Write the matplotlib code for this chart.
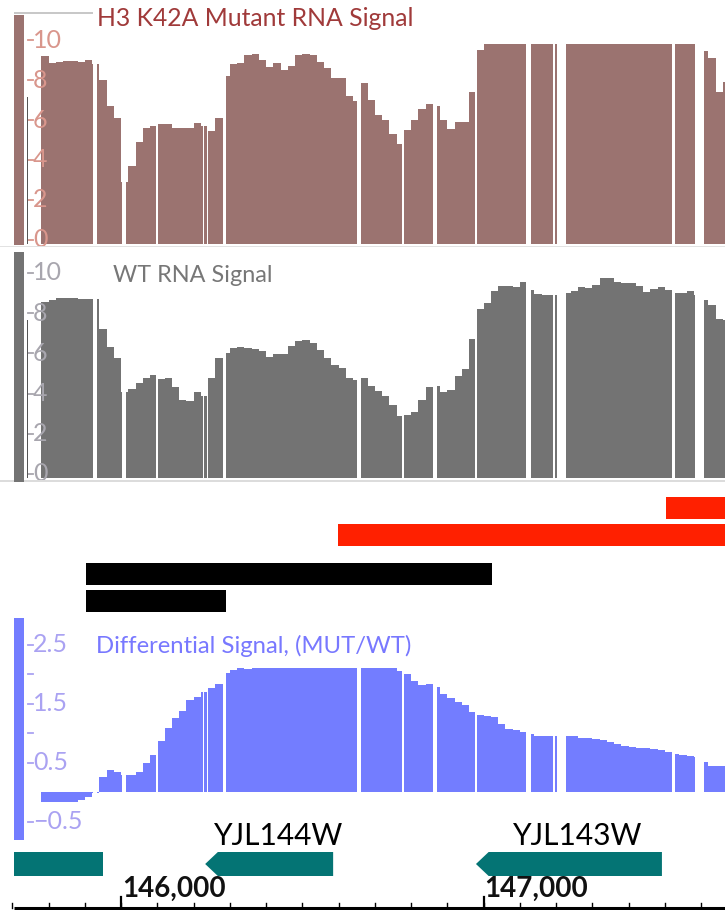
import numpy as np
import matplotlib
matplotlib.use('Agg')
import matplotlib.pyplot as plt
from matplotlib.patches import Rectangle, Polygon
import matplotlib.transforms as mtransforms

plt.rcParams['font.family'] = ['Lato', 'DejaVu Sans']

# ------------------------------------------------------------------ data
BIN_START = 145780          # genomic start of first signal bin
BIN_SIZE = 20               # bp per bin

mutant_signal = [
    9.4, 9.05, 9.1, 9.15, 9.15, 9.1, 9.2, 9.0, 8.2, 6.9,
    6.3, 3.1, 3.9, 5.1, 5.8, 5.9, 6.0, 6.0, 5.8, 5.8,
    5.8, 6.05, 5.9, 5.65, 6.3, 8.4, 9.0, 9.05, 9.45, 9.5,
    9.2, 8.85, 9.05, 8.7, 8.9, 9.45, 9.5, 9.45, 9.1, 8.8,
    8.3, 8.3, 7.4, 7.15, 8.05, 7.2, 6.45, 6.2, 5.5, 5.0,
    5.7, 6.2, 6.75, 7.0, 6.9, 6.2, 5.75, 6.1, 6.1, 7.6,
    9.7, 10, 10, 10, 10, 10, 10, 10, 10, 10,
    10, 10, 10, 10, 10, 10, 10, 10, 10, 10,
    10, 10, 10, 10, 10, 10, 10, 10, 10, 10,
    10, 9.65, 9.3, 7.6, 8.1,
]

wt_signal = [
    8.75, 8.85, 8.95, 8.95, 8.95, 8.9, 8.9, 8.9, 7.4, 6.5,
    5.95, 4.3, 4.45, 4.75, 5.0, 5.1, 4.95, 5.0, 4.55, 3.9,
    3.85, 4.3, 4.1, 5.0, 5.95, 6.2, 6.45, 6.5, 6.45, 6.4,
    6.3, 6.0, 6.15, 6.15, 6.55, 6.8, 6.85, 6.7, 6.35, 5.95,
    5.6, 5.45, 5.0, 4.9, 5.0, 4.6, 4.35, 4.1, 3.65, 3.1,
    3.15, 3.3, 3.9, 4.55, 4.6, 4.3, 4.4, 5.05, 5.4, 6.9,
    8.4, 8.7, 9.3, 9.55, 9.55, 9.5, 9.75, 9.35, 9.15, 9.1,
    9.1, 9.1, 9.2, 9.3, 9.5, 9.45, 9.6, 9.95, 9.95, 9.75,
    9.7, 9.7, 9.55, 9.25, 9.4, 9.5, 9.35, 9.2, 9.2, 9.3,
    9.1, 8.85, 8.6, 7.9, 7.85,
]

diff_signal = [
    -0.17, -0.17, -0.17, -0.17, -0.17, -0.13, -0.08, -0.02, 0.25, 0.37,
    0.34, 0.29, 0.29, 0.34, 0.5, 0.63, 0.86, 1.08, 1.25, 1.37,
    1.56, 1.61, 1.69, 1.76, 1.83, 2.02, 2.07, 2.1, 2.08, 2.1,
    2.1, 2.1, 2.1, 2.1, 2.1, 2.1, 2.1, 2.1, 2.1, 2.1,
    2.1, 2.1, 2.1, 2.1, 2.1, 2.1, 2.1, 2.1, 2.1, 2.05,
    2.0, 1.88, 1.81, 1.83, 1.78, 1.66, 1.59, 1.53, 1.47, 1.36,
    1.31, 1.29, 1.27, 1.15, 1.07, 1.05, 1.02, 0.98, 0.95, 0.95,
    0.95, 0.95, 0.95, 0.95, 0.92, 0.92, 0.9, 0.88, 0.85, 0.81,
    0.78, 0.76, 0.75, 0.74, 0.73, 0.71, 0.68, 0.64, 0.63, 0.61,
    0.6, 0.51, 0.44, 0.44, 0.44,
]

# intervals without coverage (white gaps), genomic start / end
gap_start = [145923, 146003, 146097, 146226, 146236, 146281, 146651, 146775,
             146861, 146977, 147117, 147192, 147203, 147520, 147583]
gap_end = [145934, 146014, 146102, 146229, 146240, 146290, 146662, 146781,
           146872, 146982, 147131, 147197, 147228, 147528, 147608]

red_feat_start = [147503, 146599]
red_feat_end = [147700, 147700]
black_feat_start = [145903, 145903]
black_feat_end = [147023, 146290]

gene_names = ['', 'YJL144W', 'YJL143W']
gene_start = [145705, 146232, 146979]
gene_end = [145950, 146585, 147492]
gene_arrow = [False, True, True]

ruler_major = [146000, 147000]
ruler_labels = ['146,000', '147,000']

signal_ticks = [0, 2, 4, 6, 8, 10]
signal_ticklabels = ['0', '2', '4', '6', '8', '10']
diff_ticks = [-0.5, 0.5, 1.0, 1.5, 2.0, 2.5]
diff_ticklabels = ['\u22120.5', '0.5', '', '1.5', '', '2.5']

# ------------------------------------------------------------------ layout
W, H = 725, 910
XLIM = (145666, 147666)
fig = plt.figure(figsize=(W / 100, H / 100), dpi=100)
fig.patch.set_facecolor('white')


def px_axes(x0, y0, x1, y1, z=0):
    ax = fig.add_axes([x0 / W, 1 - y1 / H, (x1 - x0) / W, (y1 - y0) / H], zorder=z)
    ax.set_xlim(*XLIM)
    ax.axis('off')
    ax.patch.set_alpha(0)
    return ax


def fig_rect(x0, y0, x1, y1, color, z=1):
    fig.patches.append(Rectangle((x0 / W, 1 - y1 / H), (x1 - x0) / W, (y1 - y0) / H,
                                 transform=fig.transFigure, color=color, zorder=z, lw=0))


bin_edges = BIN_START + BIN_SIZE * np.arange(len(mutant_signal) + 1)

MUT_C = '#9b7370'
WT_C = '#737373'
DIFF_C = '#737dff'


def signal_track(ax, values, color, ticks, labels, label_color, offset):
    ax.stairs(values, bin_edges, fill=True, color=color, lw=0, zorder=1)
    for g0, g1 in zip(gap_start, gap_end):
        ax.axvspan(g0, g1, color='white', lw=0, zorder=2)
    tr = mtransforms.blended_transform_factory(fig.transFigure, ax.transData)
    for t, lab in zip(ticks, labels):
        ax.plot([28 / W, 33 / W], [t + offset, t + offset], transform=tr,
                color=label_color, lw=1.3, zorder=4, clip_on=False)
        if lab:
            ax.text(33 / W, t + offset, lab, transform=tr, ha='left', va='center',
                    fontsize=18, color=label_color, zorder=5, clip_on=False)


# --- mutant track
ax1 = px_axes(0, 44, W, 244)
ax1.set_ylim(0, 10)
signal_track(ax1, mutant_signal, MUT_C, signal_ticks, signal_ticklabels, '#d9968c', 0.2)
fig_rect(14, 15, 24, 245, MUT_C)
fig_rect(14, 12, 93, 14, '#c8c8c8')
fig_rect(26.5, 97, 27.5, 244, '#555555')
fig.text(97 / W, 1 - 19 / H, 'H3 K42A Mutant RNA Signal', fontsize=17.8,
         color='#a03a3a', ha='left', va='center')

# separators
fig_rect(0, 246, W, 247.5, '#e2e2e2')
fig_rect(0, 480, W, 481.5, '#dcdcdc')

# --- WT track
ax2 = px_axes(0, 277, W, 478)
ax2.set_ylim(0, 10)
signal_track(ax2, wt_signal, WT_C, signal_ticks, signal_ticklabels, '#a8a6ae', 0.2)
fig_rect(14, 252, 24, 482, WT_C)
fig_rect(26.5, 320, 27.5, 478, '#555555')
fig.text(113 / W, 1 - 276 / H, 'WT RNA Signal', fontsize=16.8,
         color='#777777', ha='left', va='center')

# --- differential track
ax3 = px_axes(0, 618, W, 840)
ax3.set_ylim((792 - 840) / 59, (792 - 618) / 59)
signal_track(ax3, diff_signal, DIFF_C, diff_ticks, diff_ticklabels, '#aaa2f2', 0.0)
fig_rect(14, 618, 24, 840, DIFF_C)
fig.text(96 / W, 1 - 646 / H, 'Differential Signal, (MUT/WT)', fontsize=17.2,
         color='#7878ff', ha='left', va='center')

# --- overlay axes: features, genes, ruler (y in pixel rows)
ov = px_axes(0, 0, W, H, z=3)
ov.set_ylim(H, 0)

ov.broken_barh([(red_feat_start[0], red_feat_end[0] - red_feat_start[0])], (497, 22),
               color='#ff2000', lw=0)
ov.broken_barh([(red_feat_start[1], red_feat_end[1] - red_feat_start[1])], (524, 22),
               color='#ff2000', lw=0)
ov.broken_barh([(black_feat_start[0], black_feat_end[0] - black_feat_start[0])], (563, 22),
               color='black', lw=0)
ov.broken_barh([(black_feat_start[1], black_feat_end[1] - black_feat_start[1])], (590, 22),
               color='black', lw=0)

TEAL = '#047474'
head = 35  # bp
for name, s, e, arrow in zip(gene_names, gene_start, gene_end, gene_arrow):
    top, bot, mid = 852, 876, 864
    if arrow:
        poly = [(s, mid), (s + head, top), (e, top), (e, bot), (s + head, bot)]
    else:
        poly = [(s, top), (e, top), (e, bot), (s, bot)]
    ov.add_patch(Polygon(poly, closed=True, color=TEAL, lw=0))
    if name:
        ov.text((s + e) / 2 + 25, 845, name, fontsize=21.5, color='black',
                ha='center', va='baseline')

# ruler
ov.plot([145705, XLIM[1]], [908, 908], color='black', lw=2.2, solid_capstyle='butt')
for g in np.arange(145700, 147700, 100):
    ov.plot([g, g], [908, 903], color='black', lw=1)
for g, lab in zip(ruler_major, ruler_labels):
    ov.plot([g, g], [908, 897], color='black', lw=1.6)
    ov.text(g + 2, 897, lab, fontsize=20, fontweight='bold', color='#111111',
            ha='left', va='baseline')

fig.savefig('out.png', dpi=100, facecolor='white')
